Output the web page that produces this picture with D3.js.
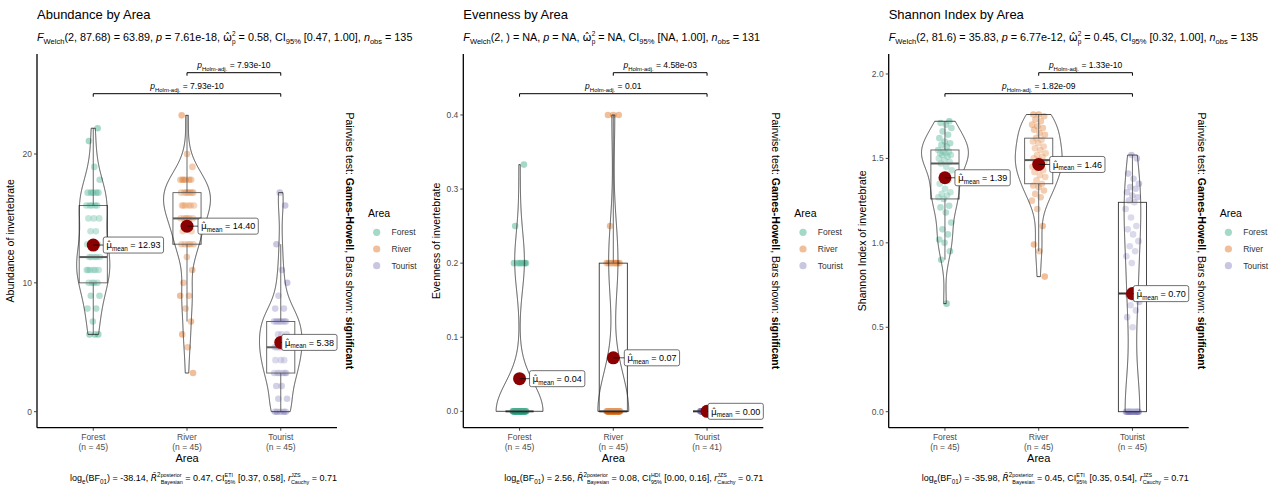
<!DOCTYPE html>
<html><head><meta charset="utf-8">
<script src="https://cdn.jsdelivr.net/npm/d3@7"></script>
<style>
body{margin:0;background:#fff}
svg{display:block;font-family:"Liberation Sans",Arial,sans-serif}
text{white-space:pre}
</style>
</head><body>
<svg id="c" width="1277" height="488"></svg>
<script>
// ---------------- data ----------------
const categories = ["Forest", "River", "Tourist"];
const areaColors = ["#1B9E77", "#D95F02", "#7570B3"];

const abundanceForest = [6,6,6,7,8,8,9,9,10,10,10,10,11,11,11,11,11,11,12,12,12,12,12,13,13,13,14,14,15,15,15,16,16,16,16,16,17,17,17,17,17,18,19,21,22];
const abundanceRiver = [3,5,6,7,8,9,9,10,11,12,13,13,13,13,13,14,14,15,15,15,15,15,15,16,16,16,16,16,16,17,17,17,17,17,17,17,18,18,18,18,18,18,19,20,23];
const abundanceTourist = [0,0,0,0,0,1,1,2,2,3,3,3,3,3,3,4,4,4,5,5,5,5,5,5,5,5,6,6,6,7,7,7,7,7,7,7,7,8,8,9,10,11,13,16,17];

const evennessForest = [0,0,0,0,0,0,0,0,0,0,0,0,0,0,0,0,0,0,0,0,0,0,0,0,0,0,0,0,0,0,0,0,0,0,0,0,0.2,0.2,0.2,0.2,0.2,0.2,0.2,0.25,0.333];
const evennessRiver = [0,0,0,0,0,0,0,0,0,0,0,0,0,0,0,0,0,0,0,0,0,0,0,0,0,0,0,0,0,0,0,0,0.2,0.2,0.2,0.2,0.2,0.2,0.2,0.2,0.2,0.25,0.4,0.4,0.4];
const evennessTourist = [0,0,0,0,0,0,0,0,0,0,0,0,0,0,0,0,0,0,0,0,0,0,0,0,0,0,0,0,0,0,0,0,0,0,0,0,0,0,0,0,0];

const shannonForest = [0.64,0.90,0.95,1.00,1.02,1.05,1.08,1.12,1.18,1.21,1.22,1.26,1.27,1.28,1.29,1.30,1.32,1.35,1.37,1.40,1.43,1.45,1.47,1.48,1.49,1.50,1.51,1.52,1.52,1.53,1.53,1.54,1.54,1.55,1.57,1.58,1.59,1.60,1.62,1.64,1.66,1.68,1.70,1.71,1.72];
const shannonRiver = [0.80,0.95,0.99,1.10,1.20,1.25,1.27,1.29,1.31,1.33,1.34,1.35,1.37,1.39,1.40,1.42,1.43,1.44,1.45,1.46,1.47,1.48,1.49,1.50,1.51,1.52,1.53,1.55,1.56,1.57,1.59,1.60,1.61,1.62,1.64,1.65,1.67,1.68,1.69,1.70,1.72,1.73,1.75,1.76,1.76];
const shannonTourist = [0,0,0,0,0,0,0,0,0,0,0,0,0,0,0,0.50,0.56,0.60,0.63,0.65,0.67,0.69,0.70,0.88,0.92,0.95,0.98,1.01,1.05,1.08,1.10,1.15,1.20,1.24,1.25,1.27,1.28,1.30,1.32,1.33,1.35,1.38,1.41,1.50,1.52];

const panelTitles = ["Abundance by Area", "Evenness by Area", "Shannon Index by Area"];
const yAxisTitles = ["Abundance of invertebrate", "Evenness of invertebrate", "Shannon Index of invertebrate"];
const yTicksAbundance = [0, 10, 20];
const yTicksEvenness = [0, 0.1, 0.2, 0.3, 0.4];
const yTicksShannon = [0, 0.5, 1.0, 1.5, 2.0];
const yDomainAbundance = [-1.242, 27.76];
const yDomainEvenness = [-0.0221, 0.4823];
const yDomainShannon = [-0.0948, 2.1184];

// subtitle statistics
const welchDf = ["87.68", "", "81.6"];
const welchF = ["63.89", "NA", "35.83"];
const welchP = ["7.61e-18", "NA", "6.77e-12"];
const omegaSq = ["0.58", "NA", "0.45"];
const omegaCiLow = ["0.47", "NA", "0.32"];
const nObs = ["135", "131", "135"];
// caption statistics
const logBF01 = ["-38.14", "2.56", "-35.98"];
const r2Bayes = ["0.47", "0.08", "0.45"];
const ciBayesType = ["ETI", "HDI", "ETI"];
const ciBayes = ["[0.37, 0.58]", "[0.00, 0.16]", "[0.35, 0.54]"];
const rCauchy = ["0.71", "0.71", "0.71"];
// pairwise comparisons (River-Tourist, Forest-Tourist)
const pairUpper = ["7.93e-10", "4.58e-03", "1.33e-10"];
const pairLower = ["7.93e-10", "0.01", "1.82e-09"];

// ---------------- layout ----------------
const panelLeft = [37, 463.3, 888.7];
const panelW = 300, plotTop = 54, plotBottom = 427.7;
const labelDx = [10, 11, 1];
const HAT_FONT = "DejaVu Sans";

const svg = d3.select("#c");
const tmp = svg.append("text").attr("x", -2000).attr("y", -2000);
function measure(str, size, italic, bold) {
  tmp.attr("font-size", size).attr("font-style", italic ? "italic" : "normal")
     .attr("font-weight", bold ? "bold" : "normal").text(str);
  return tmp.node().getComputedTextLength();
}

function rich(g, x, y, parts, size, anchor, fill) {
  const text = g.append("text").attr("x", x).attr("y", y).attr("font-size", size)
    .attr("text-anchor", anchor || "start").attr("fill", fill || "#000");
  let shift = 0, pendingDx = 0;
  parts.forEach(p => {
    if (p.stack) {
      const fsS = size * 0.6;
      const up = -size * 0.45, dn = size * 0.3;
      text.append("tspan").attr("dx", pendingDx).attr("dy", up - shift).attr("font-size", fsS).text(p.stack[0]);
      const w1 = measure(p.stack[0], fsS), w2 = measure(p.stack[1], fsS);
      text.append("tspan").attr("dx", -w1).attr("dy", dn - up).attr("font-size", fsS).text(p.stack[1]);
      shift = dn;
      pendingDx = Math.max(0, w1 - w2);
      return;
    }
    let target = 0, fs = size;
    if (p.sub) { target = size * 0.3; fs = size * 0.7; }
    if (p.sup) { target = -size * 0.42; fs = size * 0.7; }
    const ts = text.append("tspan").attr("dx", pendingDx + (p.dx || 0)).attr("dy", target - shift)
      .attr("font-size", fs).text(p.t);
    pendingDx = 0;
    if (p.i) ts.attr("font-style", "italic");
    if (p.b) ts.attr("font-weight", "bold");
    if (p.hat) ts.attr("font-family", HAT_FONT);
    shift = target;
  });
  return text;
}

function bwNrd0(x) {
  const s = x.slice().sort(d3.ascending);
  const sd = d3.deviation(s) || 0;
  const iqr = d3.quantileSorted(s, 0.75) - d3.quantileSorted(s, 0.25);
  let lo = Math.min(sd, iqr / 1.34);
  if (!lo) lo = sd || Math.abs(s[0]) || 1;
  return 0.9 * lo * Math.pow(s.length, -0.2);
}
function density(x) {
  const bw = bwNrd0(x);
  const lo = d3.min(x), hi = d3.max(x);
  if (hi === lo) return [];
  const pts = d3.range(512).map(k => lo + (hi - lo) * k / 511);
  return pts.map(y => [y, d3.mean(x, v => Math.exp(-0.5 * ((y - v) / bw) ** 2)) / (bw * Math.sqrt(2 * Math.PI))]);
}

const panels = [
  { groups: [abundanceForest, abundanceRiver, abundanceTourist], domain: yDomainAbundance, ticks: yTicksAbundance, fmt: d3.format("d") },
  { groups: [evennessForest, evennessRiver, evennessTourist], domain: yDomainEvenness, ticks: yTicksEvenness, fmt: d3.format(".1f") },
  { groups: [shannonForest, shannonRiver, shannonTourist], domain: yDomainShannon, ticks: yTicksShannon, fmt: d3.format(".1f") }
];

panels.forEach((P, pi) => {
  const L = panelLeft[pi];
  const g = svg.append("g");
  const x = d3.scalePoint().domain(categories).range([L, L + panelW]).padding(0.6);
  const step = x.step();
  const y = d3.scaleLinear().domain(P.domain).range([plotBottom, plotTop]);

  // title & subtitle
  g.append("text").attr("x", L).attr("y", 19).attr("font-size", 13).text(panelTitles[pi]);
  rich(g, L, 40.5, [
    { t: "F", i: 1 }, { t: "Welch", sub: 1 }, { t: `(2, ${welchDf[pi]}) = ${welchF[pi]}, ` },
    { t: "p", i: 1 }, { t: ` = ${welchP[pi]}, ` }, { t: "ω\u0302", hat: 1 }, { stack: ["2", "p"] },
    { t: ` = ${omegaSq[pi]}, CI` }, { t: "95%", sub: 1 }, { t: ` [${omegaCiLow[pi]}, 1.00], ` },
    { t: "n", i: 1 }, { t: "obs", sub: 1 }, { t: ` = ${nObs[pi]}` }
  ], 10.8);

  // points (jittered)
  P.groups.forEach((vals, gi) => {
    const cx = x(categories[gi]);
    g.append("g").selectAll("circle").data(vals).join("circle")
      .attr("cx", (d, i) => cx + (((i + 1) * 0.6180339 + gi * 0.31) % 1 - 0.5) * 0.15 * step)
      .attr("cy", d => y(d)).attr("r", 3.3)
      .attr("fill", areaColors[gi]).attr("fill-opacity", 0.4);
  });

  // boxplots
  const bw2 = 0.15 * step;
  P.groups.forEach((vals, gi) => {
    const cx = x(categories[gi]);
    const s = vals.slice().sort(d3.ascending);
    const q1 = d3.quantileSorted(s, 0.25), q2 = d3.quantileSorted(s, 0.5), q3 = d3.quantileSorted(s, 0.75);
    const iqr = q3 - q1;
    const wLo = d3.min(s.filter(v => v >= q1 - 1.5 * iqr));
    const wHi = d3.max(s.filter(v => v <= q3 + 1.5 * iqr));
    g.append("line").attr("x1", cx).attr("x2", cx).attr("y1", y(q3)).attr("y2", y(wHi)).attr("stroke", "#333").attr("stroke-width", 0.9);
    g.append("line").attr("x1", cx).attr("x2", cx).attr("y1", y(q1)).attr("y2", y(wLo)).attr("stroke", "#333").attr("stroke-width", 0.9);
    g.append("rect").attr("x", cx - bw2).attr("width", 2 * bw2).attr("y", y(q3)).attr("height", Math.max(0, y(q1) - y(q3)))
      .attr("fill", "#fff").attr("fill-opacity", 0.2).attr("stroke", "#333").attr("stroke-width", 0.9);
    g.append("line").attr("x1", cx - bw2).attr("x2", cx + bw2).attr("y1", y(q2)).attr("y2", y(q2)).attr("stroke", "#333").attr("stroke-width", 2);
  });

  // violins (scale = "area")
  const dens = P.groups.map(density);
  const maxD = d3.max(dens.flat(), d => d[1]);
  const half = 0.25 * step;
  dens.forEach((dd, gi) => {
    if (!dd.length) return;
    const cx = x(categories[gi]);
    const area = d3.area().x0(d => cx - d[1] / maxD * half).x1(d => cx + d[1] / maxD * half).y(d => y(d[0]));
    g.append("path").attr("d", area(dd)).attr("fill", "#fff").attr("fill-opacity", 0.2)
      .attr("stroke", "#222").attr("stroke-width", 0.8);
  });

  // means + labels
  P.groups.forEach((vals, gi) => {
    const cx = x(categories[gi]);
    const m = d3.mean(vals);
    const my = y(m);
    const lx = cx + labelDx[gi];
    const txt = rich(g, lx + 3, my + 3.2, [{ t: "μ\u0302", hat: 1 }, { t: "mean", sub: 1 }, { t: ` = ${m.toFixed(2)}` }], 9);
    const w = txt.node().getComputedTextLength() + 6;
    g.insert("rect", () => txt.node()).attr("x", lx).attr("y", my - 8).attr("width", w).attr("height", 16)
      .attr("rx", 2).attr("fill", "#fff").attr("stroke", "#333").attr("stroke-width", 0.7);
    g.insert("line", () => txt.node()).attr("x1", cx).attr("x2", lx).attr("y1", my).attr("y2", my).attr("stroke", "#000").attr("stroke-width", 0.7);
    g.insert("circle", "rect:last-of-type").attr("cx", cx).attr("cy", my).attr("r", 6.5).attr("fill", "#8B0000");
  });

  // pairwise brackets
  const brackets = [
    { a: categories[1], b: categories[2], y: plotTop + 18.7, lab: pairUpper[pi] },
    { a: categories[0], b: categories[2], y: plotTop + 39.7, lab: pairLower[pi] }
  ];
  brackets.forEach(br => {
    const x1 = x(br.a), x2 = x(br.b);
    g.append("path").attr("d", `M${x1},${br.y + 3}V${br.y}H${x2}V${br.y + 3}`).attr("fill", "none")
      .attr("stroke", "#000").attr("stroke-width", 1);
    rich(g, (x1 + x2) / 2, br.y - 4.5, [{ t: "p", i: 1 }, { t: "Holm-adj.", sub: 1 }, { t: ` = ${br.lab}` }], 8.5, "middle");
  });

  // axes
  g.append("line").attr("x1", L).attr("x2", L).attr("y1", plotTop).attr("y2", plotBottom).attr("stroke", "#000").attr("stroke-width", 1.3);
  g.append("line").attr("x1", L).attr("x2", L + panelW).attr("y1", plotBottom).attr("y2", plotBottom).attr("stroke", "#000").attr("stroke-width", 1.3);
  P.ticks.forEach(t => {
    g.append("line").attr("x1", L - 3).attr("x2", L).attr("y1", y(t)).attr("y2", y(t)).attr("stroke", "#333").attr("stroke-width", 0.9);
    g.append("text").attr("x", L - 5).attr("y", y(t) + 3).attr("text-anchor", "end").attr("font-size", 8.5)
      .attr("fill", "#4D4D4D").text(P.fmt(t));
  });
  categories.forEach((c, gi) => {
    g.append("line").attr("x1", x(c)).attr("x2", x(c)).attr("y1", plotBottom).attr("y2", plotBottom + 3).attr("stroke", "#333").attr("stroke-width", 0.9);
    g.append("text").attr("x", x(c)).attr("y", 440).attr("text-anchor", "middle").attr("font-size", 8.5).attr("fill", "#4D4D4D").text(c);
    g.append("text").attr("x", x(c)).attr("y", 449.5).attr("text-anchor", "middle").attr("font-size", 8.5).attr("fill", "#4D4D4D").text(`(n = ${P.groups[gi].length})`);
  });
  g.append("text").attr("x", L + panelW / 2).attr("y", 462).attr("text-anchor", "middle").attr("font-size", 11).text("Area");
  g.append("text").attr("transform", `translate(${L - 23},${(plotTop + plotBottom) / 2}) rotate(-90)`)
    .attr("text-anchor", "middle").attr("font-size", 10.5).text(yAxisTitles[pi]);

  // right side note
  const note = rich(g, 0, 0, [{ t: "Pairwise test: " }, { t: "Games-Howell", b: 1 }, { t: ", Bars shown: " }, { t: "significant", b: 1 }], 10.5, "middle");
  note.attr("transform", `translate(${L + 309},${(plotTop + plotBottom) / 2}) rotate(90)`);

  // legend
  g.append("text").attr("x", L + 331).attr("y", 217).attr("font-size", 10.5).text("Area");
  categories.forEach((c, gi) => {
    const ly = 232.3 + gi * 16.7;
    g.append("circle").attr("cx", L + 339.7).attr("cy", ly).attr("r", 3.6).attr("fill", areaColors[gi]).attr("fill-opacity", 0.4);
    g.append("text").attr("x", L + 354.5).attr("y", ly + 3).attr("font-size", 8.5).attr("fill", "#333").text(c);
  });

  // caption
  rich(g, L + panelW, 481, [
    { t: "log" }, { t: "e", sub: 1 }, { t: "(BF" }, { t: "01", sub: 1 }, { t: `) = ${logBF01[pi]}, ` },
    { t: "R\u0302", i: 1, hat: 1 }, { t: "2", sup: 1 }, { stack: ["posterior", "Bayesian"] }, { t: ` = ${r2Bayes[pi]}, CI` },
    { stack: [ciBayesType[pi], "95%"] }, { t: ` ${ciBayes[pi]}, ` }, { t: "r", i: 1 }, { stack: ["JZS", "Cauchy"] },
    { t: ` = ${rCauchy[pi]}` }
  ], 9, "end");
});
tmp.remove();
</script>
</body></html>
